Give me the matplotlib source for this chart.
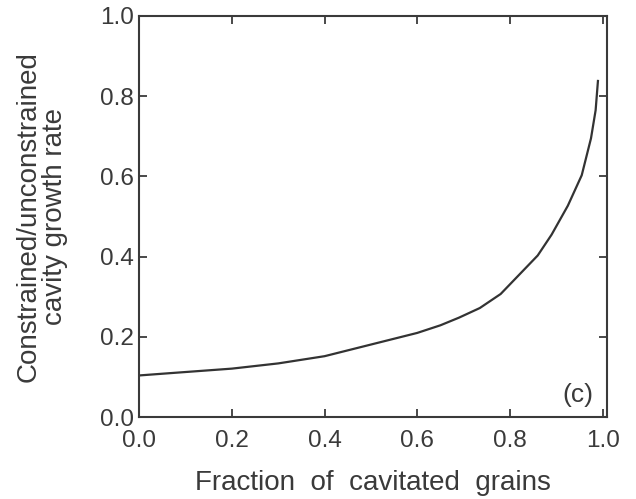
import matplotlib
matplotlib.use("Agg")
from matplotlib import pyplot as plt

# curve
frac = [0.0, 0.07, 0.2, 0.3, 0.4, 0.5, 0.6, 0.65, 0.69, 0.735, 0.78, 0.82, 0.86, 0.89, 0.925, 0.955, 0.975, 0.985, 0.99]
ratio = [0.104, 0.11, 0.121, 0.134, 0.152, 0.181, 0.21, 0.229, 0.248, 0.272, 0.307, 0.355, 0.403, 0.455, 0.527, 0.603, 0.695, 0.765, 0.838]

xticks = [0.0, 0.2, 0.4, 0.6, 0.8, 1.0]
yticks = [0.0, 0.2, 0.4, 0.6, 0.8, 1.0]

ink = "#3a3a3a"
plt.rcParams["font.family"] = ["Liberation Sans", "DejaVu Sans"]

fig = plt.figure(figsize=(6.36, 4.99), dpi=100)
ax = fig.add_axes([0.219, 0.164, 0.735, 0.804])

ax.plot(frac, ratio, color="#333333", linewidth=1.6)

ax.set_xlim(0, 1.009)
ax.set_ylim(0, 1.0)
ax.set_xticks(xticks)
ax.set_yticks(yticks)
ax.set_xticklabels(["%.1f" % t for t in xticks])
ax.set_yticklabels(["%.1f" % t for t in yticks])

ax.tick_params(direction="in", length=6, width=1.3, color=ink, labelcolor=ink,
               labelsize=17.5, top=True, right=True)
ax.tick_params(axis="x", pad=9)
ax.tick_params(axis="y", pad=4)
for s in ax.spines.values():
	s.set_color(ink)
	s.set_linewidth(1.5)

ax.set_xlabel("Fraction  of  cavitated  grains", fontsize=20, color=ink, labelpad=13)
ax.set_ylabel("Constrained/unconstrained\ncavity growth rate", fontsize=20, color=ink,
              labelpad=23, linespacing=1.0)

ax.text(0.946, 0.056, "(c)", fontsize=19, color=ink, ha="center", va="center")

plt.savefig("out.png", dpi=100)
plt.close()
